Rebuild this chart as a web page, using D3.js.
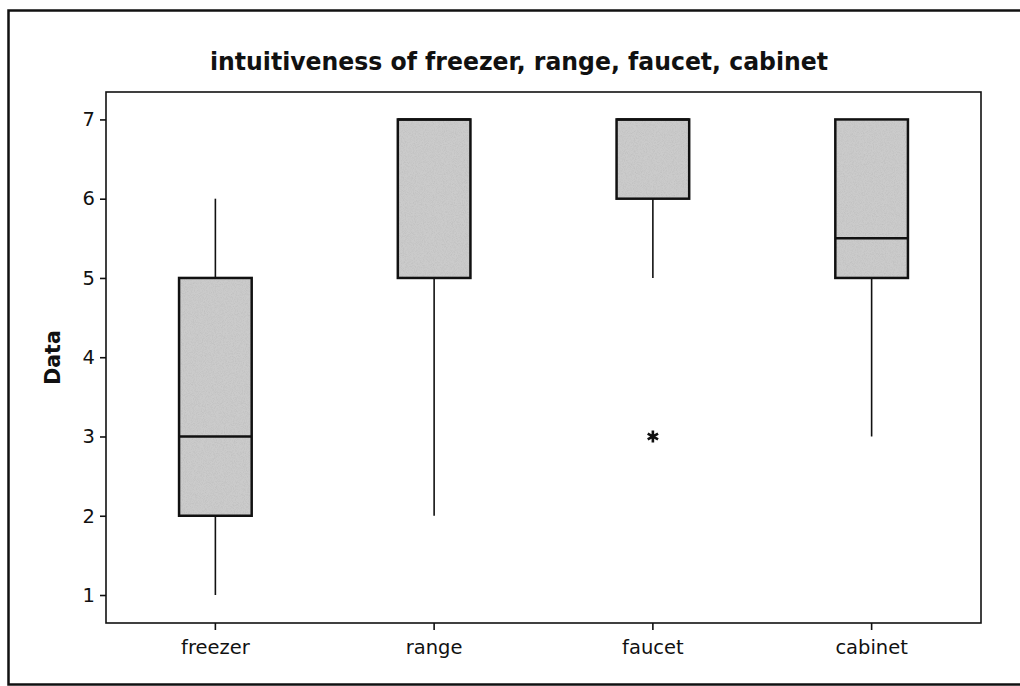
<!DOCTYPE html>
<html><head><meta charset="utf-8">
<script src="https://cdn.jsdelivr.net/npm/d3@7"></script>
<style>
html,body{margin:0;padding:0;background:#fff;}
svg{display:block;}
</style></head>
<body>
<svg id="chart" width="1020" height="686"></svg>
<script>
const title = "intuitiveness of freezer, range, faucet, cabinet";
const yLabel = "Data";
const categories = ["freezer", "range", "faucet", "cabinet"];
const whiskerLow = [1, 2, 5, 3];
const q1 = [2, 5, 6, 5];
const median = [3, 7, 7, 5.5];
const q3 = [5, 7, 7, 7];
const whiskerHigh = [6, 7, 7, 7];
const outliers = [[], [], [3], []];
const yTicks = [1, 2, 3, 4, 5, 6, 7];

const svg = d3.select("#chart");
const plot = {left: 106, right: 981, top: 92, bottom: 623};

const defs = svg.append("defs");
const f = defs.append("filter").attr("id", "noise").attr("x", 0).attr("y", 0).attr("width", 1).attr("height", 1);
f.append("feTurbulence").attr("type", "fractalNoise").attr("baseFrequency", 1.1).attr("numOctaves", 2).attr("seed", 3).attr("result", "t");
f.append("feColorMatrix").attr("in", "t").attr("type", "matrix")
  .attr("values", "0 0 0 0 0.45  0 0 0 0 0.45  0 0 0 0 0.45  0.9 0 0 0 -0.35").attr("result", "n");
f.append("feComposite").attr("in", "n").attr("in2", "SourceGraphic").attr("operator", "in");

svg.append("rect").attr("x", 8.5).attr("y", 10.5).attr("width", 1030).attr("height", 674)
  .attr("fill", "none").attr("stroke", "#111").attr("stroke-width", 2.5);

const font = "DejaVu Sans, Verdana, sans-serif";
svg.append("text").attr("x", 519).attr("y", 70).attr("text-anchor", "middle")
  .attr("font-family", font).attr("font-weight", "bold")
  .attr("font-size", 24.5).attr("textLength", 618).attr("lengthAdjust", "spacingAndGlyphs")
  .attr("fill", "#111").text(title);

const x = d3.scaleBand().domain(categories).range([plot.left, plot.right]).padding(0);
const y = d3.scaleLinear().domain([0.647, 7.346]).range([plot.bottom, plot.top]);
const bw = x.bandwidth() * 0.332;

svg.append("rect").attr("x", plot.left).attr("y", plot.top)
  .attr("width", plot.right - plot.left).attr("height", plot.bottom - plot.top)
  .attr("fill", "none").attr("stroke", "#111").attr("stroke-width", 1.6);

const yAxis = svg.append("g").attr("transform", `translate(${plot.left},0)`)
  .call(d3.axisLeft(y).tickValues(yTicks).tickFormat(d3.format("d")).tickSize(6).tickPadding(5));
const xAxis = svg.append("g").attr("transform", `translate(0,${plot.bottom})`)
  .call(d3.axisBottom(x).tickSize(7).tickPadding(10));
[yAxis, xAxis].forEach(g => {
  g.select(".domain").remove();
  g.selectAll("line").attr("stroke", "#111").attr("stroke-width", 1.6);
  g.selectAll("text").attr("font-family", font).attr("font-size", 19.5).attr("fill", "#111");
});

svg.append("text").attr("transform", `translate(60,${(plot.top + plot.bottom) / 2}) rotate(-90)`)
  .attr("text-anchor", "middle").attr("font-family", font).attr("font-weight", "bold")
  .attr("font-size", 20.5).attr("fill", "#111").text(yLabel);

categories.forEach((c, i) => {
  const cx = x(c) + x.bandwidth() / 2;
  const g = svg.append("g");
  g.append("line").attr("x1", cx).attr("x2", cx).attr("y1", y(whiskerLow[i])).attr("y2", y(q1[i]))
    .attr("stroke", "#111").attr("stroke-width", 1.6);
  g.append("line").attr("x1", cx).attr("x2", cx).attr("y1", y(q3[i])).attr("y2", y(whiskerHigh[i]))
    .attr("stroke", "#111").attr("stroke-width", 1.6);
  const bx = cx - bw / 2, by = y(q3[i]), bh = y(q1[i]) - y(q3[i]);
  g.append("rect").attr("x", bx).attr("y", by).attr("width", bw).attr("height", bh).attr("fill", "#cbcbcb");
  g.append("rect").attr("x", bx).attr("y", by).attr("width", bw).attr("height", bh).attr("fill", "#cbcbcb").attr("filter", "url(#noise)");
  g.append("rect").attr("x", bx).attr("y", by).attr("width", bw).attr("height", bh)
    .attr("fill", "none").attr("stroke", "#111").attr("stroke-width", 2.5);
  g.append("line").attr("x1", bx).attr("x2", bx + bw).attr("y1", y(median[i])).attr("y2", y(median[i]))
    .attr("stroke", "#111").attr("stroke-width", 2.5);
  outliers[i].forEach(v => {
    g.append("path").attr("transform", `translate(${cx},${y(v)})`)
      .attr("d", d3.symbol(d3.symbolAsterisk, 100)())
      .attr("fill", "none").attr("stroke", "#111").attr("stroke-width", 2.6);
  });
});
</script>
</body></html>
